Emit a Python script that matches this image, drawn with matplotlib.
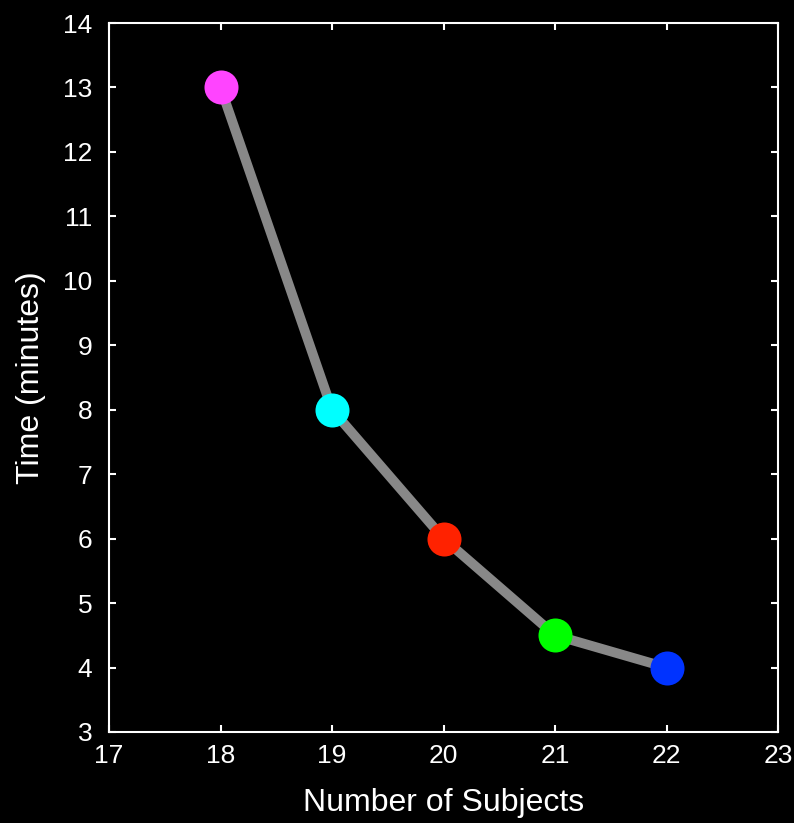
import matplotlib
matplotlib.use('Agg')
import matplotlib.pyplot as plt

subjects = [18, 19, 20, 21, 22]
minutes = [13, 8, 6, 4.5, 4]
point_colors = ['#FF44FF', '#00FFFF', '#FF2200', '#00FF00', '#0033FF']

plt.rcParams['font.family'] = ['Liberation Sans', 'DejaVu Sans']

fig = plt.figure(figsize=(7.94, 8.23), dpi=100, facecolor='black')
ax = fig.add_axes([0.1373, 0.1106, 0.8427, 0.8614])
ax.set_facecolor('black')

ax.plot(subjects, minutes, color='#888888', linewidth=7, zorder=1)
for x, y, c in zip(subjects, minutes, point_colors):
    ax.plot(x, y, 'o', color=c, markersize=24.5, markeredgewidth=0, zorder=2)

ax.set_xlim(17, 23)
ax.set_ylim(3, 14)
ax.set_xticks(range(17, 24))
ax.set_yticks(range(3, 15))

for s in ax.spines.values():
    s.set_color('white')
    s.set_linewidth(1.5)
ax.tick_params(direction='in', length=5, width=1.5, colors='white',
               top=True, right=True, labelsize=19)
ax.tick_params(axis='x', pad=9)
ax.tick_params(axis='y', pad=12)

ax.set_xlabel('Number of Subjects', color='white', fontsize=23, labelpad=14)
ax.set_ylabel('Time (minutes)', color='white', fontsize=23, labelpad=12)

plt.savefig('out.png', dpi=100, facecolor='black')
